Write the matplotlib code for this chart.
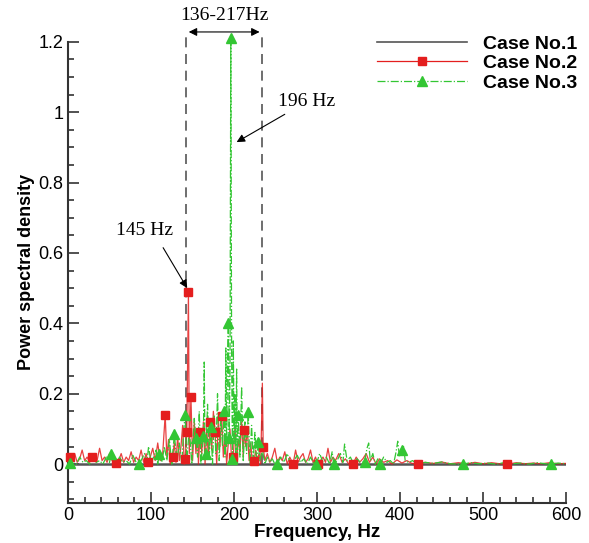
import matplotlib.pyplot as plt
from matplotlib.lines import Line2D
from matplotlib.ticker import MultipleLocator

# Case No.1 (flat baseline)
case1_f = [0, 100, 200, 300, 400, 500, 600]
case1_v = [0.0, 0.0, 0.0, 0.0, 0.0, 0.0, 0.0]

# Case No.2 line
case2_f = [0, 2, 5, 8, 11, 14, 17, 20, 23, 26, 29, 32, 35, 38, 41, 44, 47, 50, 53, 56,
           58, 61, 64, 67, 70, 73, 76, 79, 82, 85, 88, 91, 94, 96, 99, 102, 105, 108, 111, 114,
           117, 119, 121, 123, 126, 128, 130, 132, 134, 136, 138, 140, 141, 143, 145, 146, 148, 150, 152, 154,
           156, 157, 159, 161, 163, 165, 167, 169, 171, 173, 175, 177, 179, 181, 183, 185, 187, 189, 191, 193,
           195, 197, 199, 201, 203, 205, 207, 209, 211, 212, 214, 216, 218, 220, 222, 224, 226, 228, 230, 232,
           234, 235, 237, 240, 243, 246, 249, 252, 255, 258, 261, 264, 267, 271, 274, 277, 280, 283, 286, 289,
           292, 295, 298, 301, 304, 307, 310, 313, 316, 319, 322, 326, 330, 334, 338, 343, 347, 351, 355, 359,
           363, 367, 371, 375, 380, 385, 390, 396, 402, 408, 414, 422, 430, 440, 450, 460, 470, 480, 490, 500,
           510, 520, 528, 540, 550, 560, 570, 580, 590, 600]
case2_v = [0.02, 0.02, 0.01, 0.03, 0.005, 0.015, 0.04, 0.01, 0.02, 0.005, 0.02, 0.03, 0.01, 0.045, 0.01, 0.02, 0.005, 0.03, 0.01, 0.02,
           0.003, 0.01, 0.03, 0.005, 0.02, 0.01, 0.035, 0.005, 0.02, 0.01, 0.04, 0.005, 0.03, 0.006, 0.02, 0.045, 0.01, 0.06, 0.01, 0.03,
           0.14, 0.02, 0.07, 0.0, 0.02, 0.06, 0.005, 0.08, 0.01, 0.05, 0.11, 0.0, 0.015, 0.09, 0.49, 0.03, 0.19, 0.01, 0.12, 0.03,
           0.09, 0.0, 0.09, 0.03, 0.12, 0.0, 0.1, 0.02, 0.12, 0.04, 0.15, 0.09, 0.0, 0.13, 0.05, 0.137, 0.02, 0.08, 0.0, 0.06,
           0.1, 0.01, 0.02, 0.11, 0.0, 0.07, 0.04, 0.12, 0.02, 0.097, 0.05, 0.1, 0.01, 0.06, 0.0, 0.01, 0.04, 0.01, 0.03, 0.0,
           0.23, 0.05, 0.01, 0.03, 0.005, 0.02, 0.045, 0.005, 0.02, 0.01, 0.035, 0.0, 0.02, 0.0, 0.04, 0.005, 0.02, 0.03, 0.005, 0.015,
           0.04, 0.005, 0.02, 0.0, 0.01, 0.02, 0.005, 0.045, 0.005, 0.02, 0.01, 0.03, 0.005, 0.015, 0.0, 0.0, 0.02, 0.005, 0.015, 0.03,
           0.005, 0.02, 0.0, 0.015, 0.005, 0.01, 0.0, 0.012, 0.003, 0.01, 0.002, 0.0, 0.005, 0.002, 0.006, 0.001, 0.004, 0.001, 0.005, 0.001,
           0.004, 0.001, 0.0, 0.004, 0.001, 0.003, 0.001, 0.004, 0.001, 0.002]
# Case No.2 symbols
case2_mf = [2, 29, 58, 96, 117, 126, 141, 143, 145, 148, 159, 171, 177, 185, 199, 212, 224, 235, 271, 301, 343, 422, 528]
case2_mv = [0.02, 0.02, 0.003, 0.006, 0.14, 0.02, 0.015, 0.09, 0.49, 0.19, 0.09, 0.12, 0.09, 0.137, 0.02, 0.097, 0.01, 0.05,
            0.0, 0.0, 0.0, 0.0, 0.0]

# Case No.3 line
case3_f = [0, 2, 6, 10, 14, 18, 22, 26, 30, 34, 38, 42, 46, 50, 52, 55, 58, 62, 66, 70,
           74, 78, 82, 85, 88, 92, 95, 97, 100, 103, 106, 108, 110, 113, 116, 119, 122, 125, 128, 131,
           134, 137, 139, 141, 143, 146, 149, 152, 154, 156, 158, 160, 163, 164, 165, 166, 168, 170, 172, 174,
           176, 178, 180, 182, 184, 186, 188, 189, 190, 191, 192, 193, 194, 195, 196, 197, 198, 199, 200, 201,
           202, 203, 204, 205, 207, 209, 211, 213, 215, 217, 219, 221, 223, 225, 227, 229, 231, 234, 237, 240,
           243, 246, 249, 252, 256, 260, 264, 268, 272, 276, 280, 284, 288, 292, 295, 299, 303, 307, 311, 315,
           318, 320, 324, 328, 331, 333, 336, 340, 344, 348, 352, 357, 360, 362, 364, 367, 370, 373, 376, 380,
           384, 388, 392, 395, 397, 399, 402, 404, 406, 410, 415, 420, 430, 440, 450, 460, 475, 485, 495, 505,
           515, 525, 535, 545, 555, 565, 575, 582, 590, 600]
case3_v = [0.003, 0.003, 0.01, 0.0, 0.02, 0.005, 0.01, 0.0, 0.015, 0.005, 0.01, 0.0, 0.02, 0.005, 0.03, 0.01, 0.0, 0.02, 0.005, 0.01,
           0.0, 0.025, 0.005, 0.0, 0.01, 0.03, 0.005, 0.05, 0.0, 0.02, 0.04, 0.0, 0.03, 0.005, 0.05, 0.01, 0.07, 0.0, 0.085, 0.01,
           0.06, 0.0, 0.09, 0.14, 0.01, 0.1, 0.0, 0.13, 0.075, 0.02, 0.15, 0.0, 0.08, 0.29, 0.01, 0.03, 0.17, 0.02, 0.105, 0.0,
           0.14, 0.03, 0.2, 0.01, 0.13, 0.05, 0.15, 0.02, 0.33, 0.05, 0.28, 0.40, 0.075, 0.25, 1.21, 0.3, 0.015, 0.35, 0.06, 0.2,
           0.03, 0.27, 0.0, 0.14, 0.02, 0.22, 0.01, 0.12, 0.03, 0.148, 0.0, 0.11, 0.01, 0.09, 0.0, 0.062, 0.01, 0.04, 0.0, 0.02,
           0.005, 0.015, 0.0, 0.0, 0.02, 0.005, 0.03, 0.0, 0.01, 0.025, 0.005, 0.015, 0.0, 0.02, 0.005, 0.0, 0.03, 0.005, 0.02, 0.0,
           0.035, 0.0, 0.01, 0.03, 0.005, 0.057, 0.01, 0.02, 0.0, 0.015, 0.005, 0.006, 0.045, 0.06, 0.01, 0.03, 0.0, 0.015, 0.0, 0.02,
           0.005, 0.01, 0.0, 0.035, 0.065, 0.02, 0.04, 0.05, 0.01, 0.005, 0.01, 0.0, 0.005, 0.002, 0.006, 0.001, 0.0, 0.004, 0.001, 0.003,
           0.0, 0.004, 0.001, 0.003, 0.0, 0.004, 0.001, 0.0, 0.003, 0.001]
# Case No.3 symbols
case3_mf = [2, 52, 85, 110, 128, 141, 154, 163, 166, 172, 188, 193, 194, 196, 198, 205, 217, 229, 252, 299, 320, 357, 376, 402, 475, 582]
case3_mv = [0.003, 0.03, 0.0, 0.03, 0.085, 0.14, 0.075, 0.08, 0.03, 0.105, 0.15, 0.40, 0.075, 1.21, 0.015, 0.14, 0.148, 0.062,
            0.0, 0.0, 0.0, 0.006, 0.0, 0.04, 0.0, 0.0]

band = [142, 234]

red = '#e41e1e'
green = '#33c633'

fig = plt.figure(figsize=(5.89, 5.43), dpi=100)
ax = fig.add_axes([0.1155, 0.074, 0.846, 0.849])

ax.plot(case1_f, case1_v, color='#555555', lw=1.8, zorder=2)
ax.plot(case2_f, case2_v, color=red, lw=0.9, alpha=0.85, zorder=3)
ax.plot(case2_mf, case2_mv, 's', color=red, ms=6, ls='none', zorder=5, clip_on=False)
ax.plot(case3_f, case3_v, color=green, lw=0.9, ls='-.', zorder=4)
ax.plot(case3_mf, case3_mv, '^', color=green, ms=7, ls='none', zorder=6, clip_on=False)

# frequency band
for b in band:
    ax.plot([b, b], [0.0, 1.228], color='#555555', lw=1.2, ls=(0, (6, 4)), clip_on=False, zorder=1)
ax.annotate('', xy=(band[0], 1.228), xytext=(band[1], 1.228), annotation_clip=False,
            arrowprops=dict(arrowstyle='<|-|>', color='black', lw=0.8, mutation_scale=12))
ax.text(sum(band) / 2, 1.275, '136-217Hz', ha='center', va='center', family='Liberation Serif', fontsize=14)

ax.annotate('196 Hz', xy=(203, 0.915), xytext=(253, 1.03), family='Liberation Serif', fontsize=14,
            va='center', ha='left',
            arrowprops=dict(arrowstyle='-|>', color='black', lw=0.8, mutation_scale=12, shrinkA=2, shrinkB=0))
ax.text(92, 0.665, '145 Hz', family='Liberation Serif', fontsize=14, va='center', ha='center')
ax.annotate('', xy=(143.5, 0.5), xytext=(114.5, 0.615),
            arrowprops=dict(arrowstyle='-|>', color='black', lw=0.8, mutation_scale=12, shrinkA=0, shrinkB=0))

ax.set_xlim(0, 600)
ax.set_ylim(-0.11, 1.2)
ax.xaxis.set_major_locator(MultipleLocator(100))
ax.xaxis.set_minor_locator(MultipleLocator(20))
ax.yaxis.set_major_locator(MultipleLocator(0.2))
ax.yaxis.set_minor_locator(MultipleLocator(0.05))
ax.set_yticks([0, 0.2, 0.4, 0.6, 0.8, 1.0, 1.2])
ax.set_yticklabels(['0', '0.2', '0.4', '0.6', '0.8', '1', '1.2'])
ax.tick_params(which='both', direction='in', colors='#333333', labelcolor='black', labelsize=13, width=1.2)
ax.tick_params(which='major', length=8)
ax.tick_params(which='minor', length=4)
ax.tick_params(axis='x', pad=3)
for lab in ax.get_xticklabels() + ax.get_yticklabels():
    lab.set_family('Liberation Sans')
for s in ['top', 'right']:
    ax.spines[s].set_visible(False)
for s in ['left', 'bottom']:
    ax.spines[s].set_color('#333333')
    ax.spines[s].set_linewidth(1.5)

ax.set_xlabel('Frequency, Hz', family='Liberation Sans', fontweight='bold', fontsize=13.5, labelpad=0)
ax.set_ylabel('Power spectral density', family='Liberation Sans', fontweight='bold', fontsize=13, labelpad=2)

handles = [Line2D([], [], color='#555555', lw=1.2),
           Line2D([], [], color=red, lw=0.9, marker='s', ms=6),
           Line2D([], [], color=green, lw=0.9, ls='-.', marker='^', ms=7)]
leg = ax.legend(handles, ['Case No.1', 'Case No.2', 'Case No.3'], loc='upper left',
                bbox_to_anchor=(0.597, 1.04), frameon=False, handlelength=4.6, handletextpad=0.85,
                labelspacing=0.1, borderaxespad=0.2,
                prop={'family': 'Liberation Sans', 'weight': 'bold', 'size': 14})

fig.savefig('out.png', dpi=100)
